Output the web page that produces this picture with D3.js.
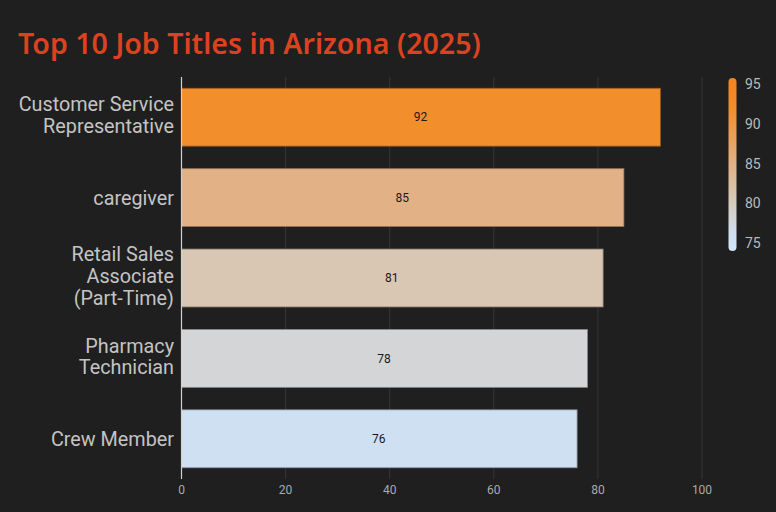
<!DOCTYPE html>
<html><head><meta charset="utf-8">
<script src="https://cdn.jsdelivr.net/npm/d3@7"></script>
<style>
html,body{margin:0;padding:0;background:#1f1f1f;}
svg{display:block;}
</style></head>
<body><svg id="chart" width="776" height="512"></svg>
<script>
const titles = [["Customer Service","Representative"],["caregiver"],["Retail Sales","Associate","(Part-Time)"],["Pharmacy","Technician"],["Crew Member"]];
const categories = ["Customer Service Representative","caregiver","Retail Sales Associate (Part-Time)","Pharmacy Technician","Crew Member"];
const values = [92, 85, 81, 78, 76];
const xTicks = [0, 20, 40, 60, 80, 100];
const colorTicks = [75, 80, 85, 90, 95];

const svg = d3.select("#chart");
svg.append("rect").attr("width",776).attr("height",512).attr("fill","#1f1f1f");

svg.append("text").attr("x",18).attr("y",54)
  .attr("fill","#dc4120").attr("font-family","'Noto Sans', sans-serif")
  .attr("font-weight",600).attr("font-size",28.6).text("Top 10 Job Titles in Arizona (2025)");

const x = d3.scaleLinear().domain([0,100]).range([181.5,702]);
const y = d3.scaleBand().domain(categories).range([77,479]).paddingInner(0.28).paddingOuter(0.14);

const cDomain = [74, 76, 78, 81, 85, 92, 95.8];
const cRange = ["#d4e5f6","#cfe0f2","#d3d5d7","#d9c7b3","#e2b185","#f28e2c","#f5821f"];
const color = d3.scaleLinear().domain(cDomain).range(cRange);

// grid
svg.append("g").selectAll("line").data(xTicks.slice(1)).join("line")
  .attr("x1",d=>x(d)).attr("x2",d=>x(d)).attr("y1",77).attr("y2",479)
  .attr("stroke","#363636").attr("stroke-width",1);

// bars
svg.append("g").selectAll("rect").data(values).join("rect")
  .attr("x",x(0)).attr("y",(d,i)=>y(categories[i]))
  .attr("width",d=>x(d)-x(0)).attr("height",y.bandwidth())
  .attr("fill",d=>color(d))
  .attr("stroke",d=>d3.color(color(d)).darker(1.2)).attr("stroke-width",0.8);

// value labels
svg.append("g").selectAll("text").data(values).join("text")
  .attr("x",d=>x(d/2)-0.5).attr("y",(d,i)=>y(categories[i])+y.bandwidth()/2)
  .attr("dy","0.35em").attr("text-anchor","middle")
  .attr("font-family","Roboto, sans-serif").attr("font-size",12).attr("fill","#1a1a1a")
  .text(d=>d);

// y axis line
svg.append("line").attr("x1",x(0)).attr("x2",x(0)).attr("y1",77).attr("y2",479)
  .attr("stroke","#d0d0d0").attr("stroke-width",1.2);

// y labels
const lh = 21.6;
svg.append("g").selectAll("text").data(titles).join("text")
  .attr("text-anchor","end").attr("font-family","Roboto, sans-serif").attr("font-size",19.8)
  .attr("fill","#c4c4c4")
  .each(function(lines,i){
    const cy = y(categories[i])+y.bandwidth()/2 - (lines.length>1?2:0);
    const t = d3.select(this);
    lines.forEach((l,j)=>{
      t.append("tspan").attr("x",174).attr("y",cy+(j-(lines.length-1)/2)*lh).attr("dy","0.35em").text(l);
    });
  });

// x tick labels
svg.append("g").selectAll("text").data(xTicks).join("text")
  .attr("x",d=>x(d)).attr("y",490).attr("dy","0.35em").attr("text-anchor","middle")
  .attr("font-family","Roboto, sans-serif").attr("font-size",12).attr("fill","#aaaaaa")
  .text(d=>d);

// color bar
const cbTop = 78, cbBot = 251;
const cy = d3.scaleLinear().domain([74,95.8]).range([cbBot,cbTop]);
const defs = svg.append("defs");
const grad = defs.append("linearGradient").attr("id","cg").attr("x1",0).attr("y1",1).attr("x2",0).attr("y2",0);
cDomain.forEach((d,i)=>grad.append("stop").attr("offset",(d-74)/(95.8-74)).attr("stop-color",cRange[i]));
svg.append("rect").attr("x",728.5).attr("y",cbTop).attr("width",8).attr("height",cbBot-cbTop)
  .attr("rx",4).attr("fill","url(#cg)");
svg.append("g").selectAll("text").data(colorTicks).join("text")
  .attr("x",745).attr("y",d=>cy(d)).attr("dy","0.35em")
  .attr("font-family","Roboto, sans-serif").attr("font-size",14).attr("fill","#bbbbbb")
  .text(d=>d);
</script></body></html>
